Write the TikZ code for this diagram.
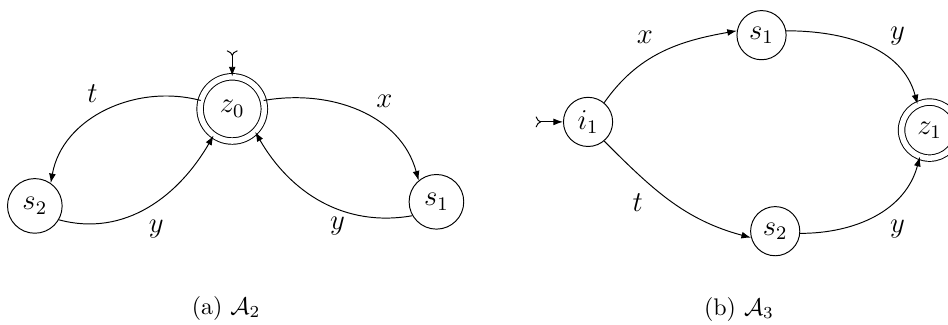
\documentclass[tikz,border=0pt]{standalone}
\usepackage{amsmath,amssymb}
\usepackage{tikz}
\usetikzlibrary{arrows.meta,positioning}
\tikzset{
  st/.style={draw,circle,minimum size=0.8cm,inner sep=0pt,font=\large},
  acc/.style={st,double,double distance=2.3pt,minimum size=0.94cm},
  arr/.style={-{Latex[length=1.4mm,width=1mm]}},
  init/.style={{To[reversed,length=0.8mm,width=1.6mm]}-{Latex[length=1.4mm,width=1mm]}},
  lab/.style={font=\large},
}
\begin{document}
\begin{tikzpicture}
\useasboundingbox (0,0) rectangle (13.88,4.745);
\clip (0,0) rectangle (13.88,4.745);
% (a) A_2
\node[acc] (z0) at (3.40,3.15) {$z_0$};
\node[st] (s2) at (0.51,1.73) {$s_2$};
\node[st] (s1) at (6.39,1.79) {$s_1$};
\coordinate[above=0.38cm of z0] (z0in);
\draw[init] (z0in) -- (z0);
\draw[arr] (z0.165) to[out=165,in=80] node[lab,pos=0.5,above left] {$t$} (s2.55);
\draw[arr] (s2.-30) to[out=-15,in=-120] node[lab,pos=0.45,below right] {$y$} (z0.-125);
\draw[arr] (z0.15) to[out=10,in=105] node[lab,pos=0.55,above right] {$x$} (s1.130);
\draw[arr] (s1.210) to[out=190,in=-60] node[lab,pos=0.4,below] {$y$} (z0.-45);
\node (capa) at (3.31,0.23) {(a)~$\mathcal{A}_2$};
% (b) A_3
\begin{scope}[st/.append style={minimum size=0.72cm}]
\node[st] (i1) at (8.61,2.96) {$i_1$};
\node[st] (s1b) at (11.15,4.23) {$s_1$};
\node[st] (s2b) at (11.35,1.36) {$s_2$};
\node[acc,minimum size=0.82cm] (z1) at (13.61,2.84) {$z_1$};
\end{scope}
\coordinate[left=0.4cm of i1] (i1in);
\draw[init] (i1in) -- (i1);
\draw[arr] (i1.50) to[out=55,in=190] node[lab,pos=0.5,above left] {$x$} (s1b.170);
\draw[arr] (s1b.10) to[out=0,in=105] node[lab,pos=0.6,above right] {$y$} (z1.115);
\draw[arr] (i1.-50) to[out=-45,in=165] node[lab,pos=0.35,below left] {$t$} (s2b.195);
\draw[arr] (s2b.-5) to[out=0,in=-105] node[lab,pos=0.55,below right] {$y$} (z1.-110);
\node (capb) at (10.82,0.22) {(b)~$\mathcal{A}_3$};
\end{tikzpicture}
\end{document}
